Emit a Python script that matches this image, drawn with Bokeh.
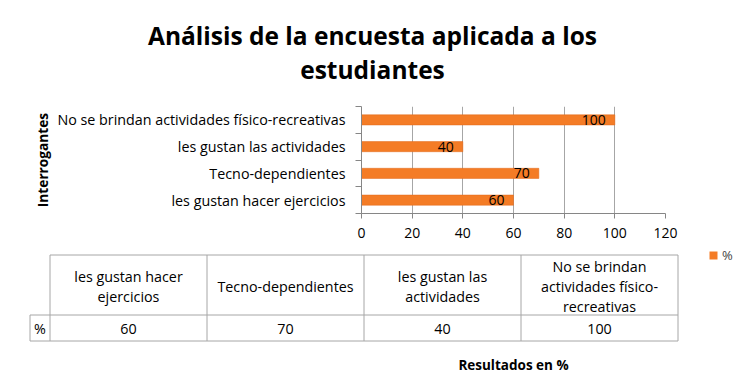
from bokeh.plotting import figure
from bokeh.models import Range1d, FixedTicker, Legend, LegendItem, ColumnDataSource
from bokeh.layouts import column
from bokeh.embed import file_html
from bokeh.resources import INLINE
from bokeh.core.properties import value

# ---------------- data ----------------
categories = ["les gustan hacer ejercicios", "Tecno-dependientes",
              "les gustan las actividades", "No se brindan actividades físico-recreativas"]
values = [60, 70, 40, 100]
table_headers = ["les gustan hacer\nejercicios", "Tecno-dependientes",
                 "les gustan las\nactividades", "No se brindan\nactividades físico-\nrecreativas"]
series_name = "%"
x_ticks = [0, 20, 40, 60, 80, 100, 120]
title_lines = ["Análisis de la encuesta aplicada a los", "estudiantes"]
y_axis_title = "Interrogantes"
x_axis_title = "Resultados en %"

# ---------------- style ----------------
FONT = "Open Sans"
TXT = "14.3px"
ORANGE = "#F47C26"
GRID = "#A6A6A6"
AXIS = "#868686"
W = 749
H0 = 96                      # title strip
H1 = 245 - H0                # bar chart
H2 = 383 - H0 - H1           # table strip
F_LEFT, F_RIGHT, F_TOP, F_BOTTOM = 361, 665, 106, 213

n = len(categories)
ys = [i + 0.5 for i in range(n)]


def strip(height):
    f = figure(width=W, height=height, x_range=Range1d(0, W), y_range=Range1d(height, 0),
               x_axis_location=None, y_axis_location=None, min_border=0,
               output_backend="svg", toolbar_location=None, title=None)
    f.frame_align = False
    f.outline_line_color = None
    f.grid.grid_line_color = None
    return f


# ---------------- title strip ----------------
p0 = strip(H0)
p0.text(x=[372, 372], y=[35, 69], text=title_lines, text_align="center",
        text_baseline="alphabetic", text_font=value(FONT), text_font_size="24.5px",
        text_font_style="bold", text_color="black")

# ---------------- bar chart ----------------
p = figure(width=W, height=H1, x_range=Range1d(0, 120), y_range=Range1d(0, n),
           output_backend="svg", toolbar_location=None, title=None,
           min_border_left=F_LEFT, min_border_right=W - F_RIGHT,
           min_border_top=F_TOP - H0, min_border_bottom=H0 + H1 - F_BOTTOM)
p.frame_align = False
p.outline_line_color = None

src = ColumnDataSource(dict(y=ys, v=values, lab=[str(v) for v in values]))
bars = p.hbar(y="y", left=0, right="v", height=0.38, source=src,
              fill_color=ORANGE, line_color="#E0691A", line_width=0.5)
p.text(x="v", y="y", text="lab", source=src, x_offset=-9, text_align="right",
       text_baseline="middle", text_font=value(FONT), text_font_size="14px", text_color="black")

p.xaxis.ticker = FixedTicker(ticks=x_ticks)
p.xaxis.minor_tick_line_color = None
p.xaxis.major_tick_in = 0
p.xaxis.major_tick_out = 5
p.xaxis.major_tick_line_color = AXIS
p.xaxis.axis_line_color = AXIS
p.xaxis.major_label_standoff = 9
p.xaxis.major_label_text_font = FONT
p.xaxis.major_label_text_font_size = "14px"
p.xaxis.major_label_text_color = "black"

p.yaxis.ticker = FixedTicker(ticks=ys, minor_ticks=[i for i in range(n + 1)])
p.yaxis.major_label_overrides = {y: c for y, c in zip(ys, categories)}
p.yaxis.major_tick_line_color = None
p.yaxis.major_tick_out = 6
p.yaxis.major_tick_in = 0
p.yaxis.minor_tick_out = 6
p.yaxis.minor_tick_in = 0
p.yaxis.minor_tick_line_color = AXIS
p.yaxis.axis_line_color = AXIS
p.yaxis.major_label_standoff = 10
p.yaxis.major_label_text_font = FONT
p.yaxis.major_label_text_font_size = TXT
p.yaxis.major_label_text_color = "black"
p.yaxis.axis_label = y_axis_title
p.yaxis.axis_label_text_font = FONT
p.yaxis.axis_label_text_font_size = "13.7px"
p.yaxis.axis_label_text_font_style = "bold"
p.yaxis.axis_label_text_color = "black"
p.yaxis.axis_label_standoff = 2

p.xgrid.grid_line_color = GRID
p.ygrid.grid_line_color = None

# ---------------- table strip ----------------
p2 = strip(H2)
Y0 = H0 + H1
T_LEFT, LAB_LEFT, COL_W = 49.5, 29.5, 157
T_TOP, H_BOT, V_BOT = 254.5 - Y0, 314.5 - Y0, 340.5 - Y0
T_RIGHT = T_LEFT + COL_W * n
col_edges = [T_LEFT + COL_W * i for i in range(n + 1)]

xs0 = [T_LEFT, LAB_LEFT, LAB_LEFT, LAB_LEFT] + col_edges
xs1 = [T_RIGHT, T_RIGHT, T_RIGHT, LAB_LEFT] + col_edges
ys0 = [T_TOP, H_BOT, V_BOT, H_BOT] + [T_TOP] * (n + 1)
ys1 = [T_TOP, H_BOT, V_BOT, V_BOT] + [V_BOT] * (n + 1)
p2.segment(x0=xs0, y0=ys0, x1=xs1, y1=ys1, line_color=GRID, line_width=1)

centers = [T_LEFT + COL_W * (i + 0.5) for i in range(n)]
LINE_GAP = 20
hx, hy, ht = [], [], []
for cx, head in zip(centers, table_headers):
    parts = head.split("\n")
    mid = (T_TOP + H_BOT) / 2 + 1.5
    for k, part in enumerate(parts):
        hx.append(cx)
        hy.append(mid + (k - (len(parts) - 1) / 2) * LINE_GAP)
        ht.append(part)
p2.text(x=hx, y=hy, text=ht, text_align="center", text_baseline="middle",
        text_font=value(FONT), text_font_size=TXT, text_color="black")
p2.text(x=centers, y=[(H_BOT + V_BOT) / 2 + 0.5] * n, text=[str(v) for v in values],
        text_align="center", text_baseline="middle",
        text_font=value(FONT), text_font_size=TXT, text_color="black")
p2.text(x=[(LAB_LEFT + T_LEFT) / 2], y=[(H_BOT + V_BOT) / 2 + 0.5], text=[series_name],
        text_align="center", text_baseline="middle",
        text_font=value(FONT), text_font_size=TXT, text_color="black")
p2.text(x=[(F_LEFT + F_RIGHT) / 2], y=[364 - Y0], text=[x_axis_title], text_align="center",
        text_baseline="middle", text_font=value(FONT), text_font_size="13.5px",
        text_font_style="bold", text_color="black")

# series key (legend) at the right of the table's top edge; the key renderer
# holds one undefined row so that only its legend swatch is painted
nan = float("nan")
key = p2.quad(left=[nan], right=[nan], top=[nan], bottom=[nan],
              fill_color=ORANGE, line_color=None)
legend = Legend(items=[LegendItem(label=series_name, renderers=[key])],
                location=(708, H2 - 19), glyph_width=10, glyph_height=10,
                label_height=10, label_standoff=4, padding=0, margin=0, spacing=0,
                border_line_color=None, background_fill_alpha=0,
                label_text_font=FONT, label_text_font_size="13px")
p2.add_layout(legend)

layout = column(p0, p, p2, spacing=0)
open("out.html", "w").write(file_html(layout, INLINE))
